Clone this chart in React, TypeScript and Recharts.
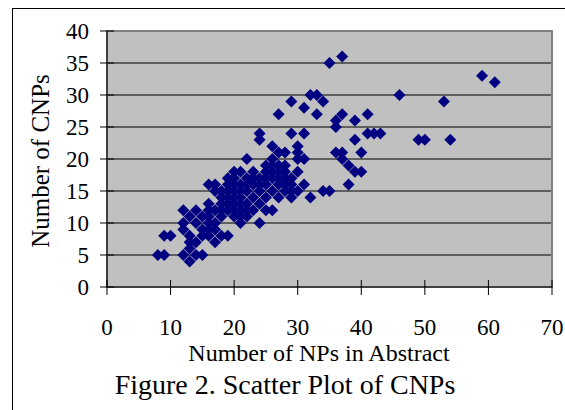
import React from 'react'
import {
  ScatterChart,
  Scatter,
  XAxis,
  YAxis,
  CartesianGrid,
  ReferenceArea,
} from 'recharts'

// number of NPs in abstract (x) and number of CNPs (y)
const npCounts = [
  8, 9, 9, 10, 12, 13, 14, 15, 13, 12, 13, 13, 14, 12, 12, 13, 14, 14, 15, 16,
  15, 15, 16, 16, 17, 16, 17, 17, 18, 19, 16, 16, 17, 17, 16, 17, 18, 18, 18, 18,
  18, 19, 19, 19, 19, 19, 19, 20, 20, 20, 20, 20, 20, 20, 20, 21, 21, 21, 21, 21,
  21, 21, 21, 22, 22, 22, 22, 22, 22, 23, 23, 23, 23, 24, 24, 24, 24, 24, 24, 25,
  25, 25, 25, 25, 26, 26, 26, 26, 26, 26, 27, 27, 27, 27, 27, 27, 28, 28, 28, 28,
  28, 29, 29, 29, 29, 29, 30, 30, 30, 30, 30, 31, 31, 31, 31, 32, 32, 33, 33, 34,
  34, 35, 35, 36, 36, 36, 37, 37, 37, 37, 38, 38, 39, 39, 39, 40, 40, 41, 41, 42,
  43, 46, 49, 50, 53, 54, 59, 61, 22, 23, 24, 25, 26, 27, 28, 29,
]
const cnpCounts = [
  5, 5, 8, 8, 5, 4, 5, 5, 6, 9, 8, 7, 7, 12, 10, 11, 12, 10, 11, 11,
  8, 9, 9, 8, 7, 10, 10, 9, 8, 8, 12, 13, 12, 15, 16, 16, 15, 14, 13, 12,
  11, 12, 13, 14, 15, 16, 17, 18, 17, 16, 15, 14, 13, 12, 11, 10, 11, 12, 13, 14,
  15, 16, 18, 17, 15, 13, 12, 11, 20, 14, 12, 16, 18, 10, 13, 15, 16, 23, 24, 12,
  14, 16, 17, 18, 12, 15, 17, 19, 20, 22, 14, 16, 18, 19, 21, 27, 15, 16, 17, 19,
  21, 14, 15, 16, 24, 29, 15, 18, 21, 22, 20, 16, 20, 24, 28, 14, 30, 30, 27, 15,
  29, 15, 35, 21, 25, 26, 21, 20, 27, 36, 19, 16, 18, 23, 26, 18, 21, 24, 27, 24,
  24, 30, 23, 23, 29, 23, 33, 32, 16, 17, 17, 19, 18, 17, 18, 17,
]
const xTicks = [0, 10, 20, 30, 40, 50, 60, 70]
const yTicks = [0, 5, 10, 15, 20, 25, 30, 35, 40]

const points = npCounts.map((x, i) => ({ x, y: cnpCounts[i] }))

const FONT = '"Liberation Serif", "Times New Roman", serif'

const Diamond = (props: any) => {
  const { cx, cy } = props
  const r = 6
  return (
    <polygon
      points={`${cx},${cy - r} ${cx + r},${cy} ${cx},${cy + r} ${cx - r},${cy}`}
      fill="#000080"
    />
  )
}

const YTick = ({ x, y, payload }: any) => (
  <g>
    <line x1={x - 7} x2={x + 7} y1={y} y2={y} stroke="#000" />
    <text x={x - 18} y={y} dy={8} textAnchor="end" fontFamily={FONT} fontSize={23} fill="#000">
      {payload.value}
    </text>
  </g>
)

const XTick = ({ x, y, payload }: any) => (
  <g>
    <line x1={x} x2={x} y1={y - 7} y2={y + 8} stroke="#000" />
    <text x={x} y={y + 48} textAnchor="middle" fontFamily={FONT} fontSize={23} fill="#000">
      {payload.value}
    </text>
  </g>
)

export default function App() {
  return (
    <div style={{ position: 'absolute', left: 0, top: 0, width: 565, height: 410, background: '#fff', overflow: 'hidden' }}>
      <div
        style={{
          position: 'absolute',
          left: 12,
          top: 8,
          right: -2,
          bottom: -2,
          borderLeft: '1px solid #000',
          borderTop: '1px solid #000',
        }}
      />
      <div style={{ position: 'absolute', left: 0, top: 0 }}>
        <ScatterChart width={565} height={410} margin={{ top: 31, right: 13, bottom: 0, left: 0 }}>
          <CartesianGrid vertical={false} stroke="#000" fill="#C0C0C0" fillOpacity={1} />
          <ReferenceArea x1={0} x2={70} y1={0} y2={40} fill="none" stroke="#808080" strokeWidth={2} />
          <XAxis
            type="number"
            dataKey="x"
            domain={[0, 70]}
            ticks={xTicks}
            height={123}
            tickSize={0}
            tickMargin={0}
            tickLine={false}
            axisLine={{ stroke: '#000' }}
            tick={<XTick />}
            interval={0}
          />
          <YAxis
            type="number"
            dataKey="y"
            domain={[0, 40]}
            ticks={yTicks}
            width={107}
            tickSize={0}
            tickMargin={0}
            tickLine={false}
            axisLine={{ stroke: '#000' }}
            tick={<YTick />}
            interval={0}
          />
          <Scatter data={points} shape={<Diamond />} isAnimationActive={false} />
        </ScatterChart>
      </div>
      <svg width={565} height={410} style={{ position: 'absolute', left: 0, top: 0, pointerEvents: 'none' }}>
        <text
          x={40}
          y={161}
          transform="rotate(-90 40 161)"
          textAnchor="middle"
          dominantBaseline="central"
          fontFamily={FONT}
          fontSize={25}
          fill="#000"
        >
          Number of CNPs
        </text>
        <text x={319} y={353} textAnchor="middle" dominantBaseline="central" fontFamily={FONT} fontSize={24} fill="#000">
          Number of NPs in Abstract
        </text>
        <text x={285} y={384} textAnchor="middle" dominantBaseline="central" fontFamily={FONT} fontSize={28} fill="#000">
          Figure 2. Scatter Plot of CNPs
        </text>
      </svg>
    </div>
  )
}
